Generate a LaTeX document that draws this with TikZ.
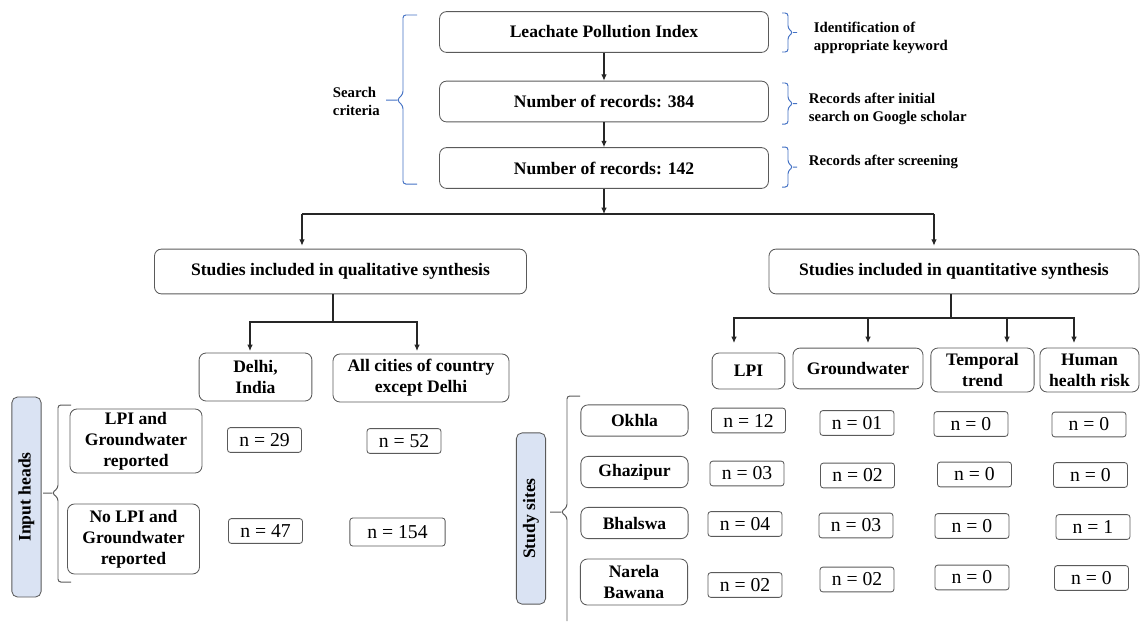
\documentclass[tikz,border=0pt]{standalone}
\usepackage{fontspec}
\setmainfont{Liberation Serif}[BoldFont={* Bold}]
\usepackage{xcolor}
\definecolor{braceblue}{RGB}{68,114,196}
\definecolor{headfill}{RGB}{218,227,243}
\definecolor{boxgray}{RGB}{90,90,90}
\usepackage{tikz}
\usetikzlibrary{calc}
\usetikzlibrary{arrows.meta}
\newcommand{\stagefont}{\bfseries\fontsize{12.5}{15}\selectfont}
\newcommand{\sidefont}{\bfseries\fontsize{10.5}{12.8}\selectfont}
\newcommand{\nfont}{\fontsize{14}{16}\selectfont}
\newcommand{\widthstage}{8.22cm}
\newcommand{\widthsynth}{9.3cm}
\newcommand{\widthsite}{2.68cm}
\newcommand{\widthcount}{1.85cm}
\newcommand{\notebrace}[2]{%
    \draw[bluebrace] (782,#1) -- (788,#1) -- (788,{(#1+#2)/2-4}) -- (793,{(#1+#2)/2})
        -- (788,{(#1+#2)/2+4}) -- (788,#2) -- (782,#2)
        (793,{(#1+#2)/2}) -- (797,{(#1+#2)/2});}
\tikzset{
    common/.style={draw=boxgray, line width=0.6pt, rounded corners=5pt, inner sep=0pt, align=center, font=\stagefont},
    stagebox/.style={common, minimum width=\widthstage, minimum height=1.02cm},
    synthbox/.style={common, minimum width=\widthsynth, minimum height=1.12cm},
    colbox/.style={common, minimum height=1.05cm},
    rowbox/.style={common, minimum width=3.3cm},
    sitebox/.style={common, minimum width=\widthsite, minimum height=0.78cm},
    countbox/.style={common, rounded corners=2pt, minimum width=\widthcount, minimum height=0.62cm, font=\nfont},
    headbox/.style={common, rounded corners=4pt, fill=headfill, rotate=90, minimum height=0.73cm},
    sidenote/.style={anchor=west, align=left, font=\sidefont},
    bluebrace/.style={draw=braceblue, line width=0.7pt, rounded corners=2pt},
    graybrace/.style={draw=boxgray, line width=0.7pt, rounded corners=2pt},
    arrowline/.style={thick, draw=black!85}
}
\begin{document}
\begin{tikzpicture}[x=0.025cm, y=-0.025cm, >={Latex[length=4.5pt,width=4pt]}]
    \useasboundingbox (0,0) rectangle (1140,621);

    % search stages
    \node[stagebox] (lpi-index) at (604,32) {Leachate Pollution Index};
    \node[stagebox] (records-384) at (604,101.5) {Number of records: 384};
    \node[stagebox] (records-142) at (604,168) {Number of records: 142};

    \draw[->, arrowline] (lpi-index) -- (records-384);
    \draw[->, arrowline] (records-384) -- (records-142);

    \node[sidenote] (search-label) at (328,101) {Search\\criteria};
    \draw[bluebrace] (417,15) -- (403,15) -- (403,94) -- (397,100) -- (403,106) -- (403,184) -- (417,184)
        (386,100) -- (397,100);

    \notebrace{13}{52}
    \notebrace{83}{124}
    \notebrace{147}{187}
    \node[sidenote] (note-keyword) at (809,38) {Identification of\\appropriate keyword};
    \node[sidenote] (note-initial) at (804,109) {Records after initial\\search on Google scholar};
    \node[sidenote] (note-screening) at (804,162) {Records after screening};

    % split into the two syntheses
    \node[synthbox] (qual) at (340.5,271.5) {Studies included in qualitative synthesis};
    \node[synthbox, minimum width=9.25cm] (quant) at (954,271.5) {Studies included in quantitative synthesis};

    \coordinate (split) at (604,214);
    \coordinate (split-left) at (302,214);
    \coordinate (split-right) at (934,214);
    \draw[->, arrowline] (records-142) -- (split);
    \draw[arrowline] (split-left) -- (split-right);
    \draw[->, arrowline] (split-left) -- ($(split-left |- qual.north)+(0,-3)$);
    \draw[->, arrowline] (split-right) -- ($(split-right |- quant.north)+(0,-3)$);

    % qualitative branch
    \node[colbox, minimum width=2.82cm, minimum height=1.2cm] (delhi) at (255.5,377) {Delhi,\\India};
    \node[colbox, minimum width=4.4cm, minimum height=1.2cm] (all-cities) at (421,378) {All cities of country\\except Delhi};

    \coordinate (qual-fork) at (333,322);
    \coordinate (to-delhi) at (250,351);
    \coordinate (to-cities) at (417,351);
    \draw[arrowline] (qual.south -| qual-fork) -- (qual-fork);
    \draw[->, arrowline] (qual-fork) -| (to-delhi);
    \draw[->, arrowline] (qual-fork) -| (to-cities);

    \node[headbox, minimum width=5cm] (input-heads) at (26.5,497) {Input heads};
    \draw[graybrace] (71,405) -- (58,405) -- (58,488) -- (52,493) -- (58,498) -- (58,582) -- (71,582)
        (43,493) -- (52,493);

    \node[rowbox, minimum height=1.6cm] (lpi-gw) at (136,441) {LPI and\\Groundwater\\reported};
    \node[rowbox, minimum height=1.75cm] (no-lpi-gw) at (133.5,539) {No LPI and\\Groundwater\\reported};

    \node[countbox] (delhi-yes) at (264.5,440) {n = 29};
    \node[countbox] (cities-yes) at (404,441) {n = 52};
    \node[countbox] (delhi-no) at (265.5,531) {n = 47};
    \node[countbox, minimum width=2.38cm, minimum height=0.7cm] (cities-no) at (397.5,532) {n = 154};

    % quantitative branch
    \node[colbox, minimum width=1.82cm, minimum height=0.9cm] (col-lpi) at (748.5,371) {LPI};
    \node[colbox, minimum width=3.25cm, minimum height=1.02cm] (col-gw) at (858,368.5) {Groundwater};
    \node[colbox, minimum width=2.58cm, minimum height=1.1cm] (col-temporal) at (982.5,370) {Temporal\\trend};
    \node[colbox, minimum width=2.475cm, minimum height=1.1cm] (col-health) at (1089.5,370) {Human\\health risk};

    \coordinate (quant-fork) at (951,318);
    \coordinate (to-lpi) at (734,343);
    \coordinate (to-gw) at (868,343);
    \coordinate (to-temporal) at (1007,343);
    \coordinate (to-health) at (1074,343);
    \draw[arrowline] (quant.south -| quant-fork) -- (quant-fork);
    \draw[->, arrowline] (quant-fork) -| (to-lpi);
    \draw[->, arrowline] (quant-fork) -| (to-gw);
    \draw[->, arrowline] (quant-fork) -| (to-temporal);
    \draw[->, arrowline] (quant-fork) -| (to-health);

    \node[headbox, minimum width=4.28cm] (study-sites) at (531,518.5) {Study sites};
    \draw[graybrace] (580,396) -- (567,396) -- (567,507) -- (561,512) -- (567,517) -- (567,621)
        (550,512) -- (561,512);

    \node[sitebox] (okhla) at (634.5,420.5) {Okhla};
    \node[sitebox] (ghazipur) at (634.5,472) {Ghazipur};
    \node[sitebox] (bhalswa) at (634.5,523) {Bhalswa};
    \node[sitebox, minimum height=1.15cm] (narela) at (634,582) {Narela\\Bawana};

    \node[countbox] (okhla-lpi) at (748.5,420.5) {n = 12};
    \node[countbox] (ghazipur-lpi) at (747,473.5) {n = 03};
    \node[countbox] (bhalswa-lpi) at (745,524) {n = 04};
    \node[countbox] (narela-lpi) at (745,585) {n = 02};

    \node[countbox] (okhla-gw) at (857,423) {n = 01};
    \node[countbox] (ghazipur-gw) at (857.5,475.5) {n = 02};
    \node[countbox] (bhalswa-gw) at (856,525.5) {n = 03};
    \node[countbox] (narela-gw) at (857,579.5) {n = 02};

    \node[countbox] (okhla-temporal) at (971,424) {n = 0};
    \node[countbox] (ghazipur-temporal) at (974.5,474.5) {n = 0};
    \node[countbox] (bhalswa-temporal) at (972,526) {n = 0};
    \node[countbox] (narela-temporal) at (972,577.5) {n = 0};

    \node[countbox] (okhla-health) at (1089,424.5) {n = 0};
    \node[countbox] (ghazipur-health) at (1090.5,475) {n = 0};
    \node[countbox] (bhalswa-health) at (1093,527) {n = 1};
    \node[countbox] (narela-health) at (1091.5,578) {n = 0};
\end{tikzpicture}
\end{document}
